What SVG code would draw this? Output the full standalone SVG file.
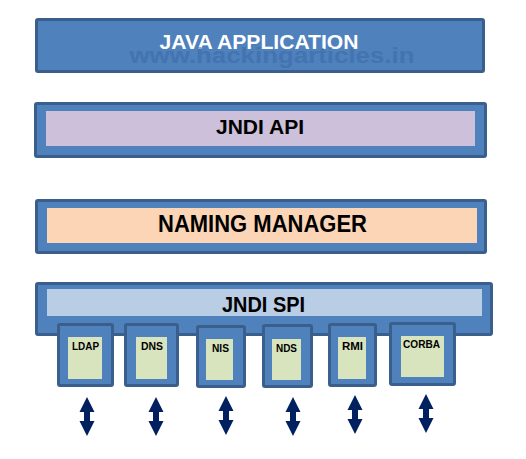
<svg xmlns="http://www.w3.org/2000/svg" width="526" height="459" viewBox="0 0 526 459">
<defs>
<style>
.outer{fill:#4f81bd;stroke:#3a5f8c;stroke-width:3}
.big{font-family:"Liberation Sans",Arial,sans-serif;font-weight:bold;text-anchor:middle}
.small{font-family:"Liberation Sans",Arial,sans-serif;font-weight:bold;font-size:10.5px;fill:#000;text-anchor:middle}
.inner{fill:#d7e4bd}
.arrow{fill:#002060}
</style>
<path id="dbl" d="M0,0 L7.5,15 L3,15 L3,24 L7.5,24 L0,39 L-7.5,24 L-3,24 L-3,15 L-7.5,15 Z"/>
</defs>
<rect width="526" height="459" fill="#fff"/>
<g id="java-application">
<rect class="outer" x="36.5" y="19.5" width="447" height="52" rx="1.5"/>
<text class="big" x="259" y="49" font-size="21" fill="#fff" textLength="199" lengthAdjust="spacingAndGlyphs">JAVA APPLICATION</text>
<text class="big" x="272" y="63" font-size="22" fill="#3a6aa6" opacity="0.55" textLength="285" lengthAdjust="spacingAndGlyphs">www.hackingarticles.in</text>
</g>
<g id="jndi-api">
<rect class="outer" x="35.5" y="103.5" width="450" height="53" rx="1.5"/>
<rect x="46" y="111" width="429" height="35" fill="#ccc0da"/>
<text class="big" x="260" y="134" font-size="21" fill="#000" textLength="88" lengthAdjust="spacingAndGlyphs">JNDI API</text>
</g>
<g id="naming-manager">
<rect class="outer" x="36.5" y="200.5" width="449" height="52" rx="1.5"/>
<rect x="47" y="208" width="430" height="35" fill="#fbd5b5"/>
<text class="big" x="262.5" y="232" font-size="23" fill="#000" textLength="209" lengthAdjust="spacingAndGlyphs">NAMING MANAGER</text>
</g>
<g id="jndi-spi">
<rect class="outer" x="36.5" y="283.5" width="455" height="51" rx="1.5"/>
<rect x="47" y="289" width="435" height="27" fill="#b9cde5"/>
<text class="big" x="263.5" y="312" font-size="22" fill="#000" textLength="83" lengthAdjust="spacingAndGlyphs">JNDI SPI</text>
</g>
<g id="ldap">
<rect class="outer" x="58.5" y="324.5" width="54" height="61" rx="1.5"/>
<rect class="inner" x="68" y="337" width="34" height="42"/>
<text class="small" x="85.5" y="350" textLength="27" lengthAdjust="spacingAndGlyphs">LDAP</text>
</g>
<g id="dns">
<rect class="outer" x="125.5" y="324.5" width="52" height="61" rx="1.5"/>
<rect class="inner" x="136" y="337" width="31" height="42"/>
<text class="small" x="152" y="350" textLength="22" lengthAdjust="spacingAndGlyphs">DNS</text>
</g>
<g id="nis">
<rect class="outer" x="197.5" y="326.5" width="47" height="60" rx="1.5"/>
<rect class="inner" x="206" y="339" width="27" height="41"/>
<text class="small" x="220.5" y="352" textLength="17" lengthAdjust="spacingAndGlyphs">NIS</text>
</g>
<g id="nds">
<rect class="outer" x="263.5" y="325.5" width="48" height="61" rx="1.5"/>
<rect class="inner" x="272" y="339" width="29" height="41"/>
<text class="small" x="286.5" y="352" textLength="21" lengthAdjust="spacingAndGlyphs">NDS</text>
</g>
<g id="rmi">
<rect class="outer" x="329.5" y="324.5" width="46" height="61" rx="1.5"/>
<rect class="inner" x="338" y="337" width="28" height="42"/>
<text class="small" x="352.5" y="350" textLength="21" lengthAdjust="spacingAndGlyphs">RMI</text>
</g>
<g id="corba">
<rect class="outer" x="390.5" y="323.5" width="64" height="61" rx="1.5"/>
<rect class="inner" x="401" y="336" width="43" height="41"/>
<text class="small" x="421.5" y="348" textLength="37" lengthAdjust="spacingAndGlyphs">CORBA</text>
</g>
<g id="connectors" class="arrow">
<use href="#dbl" x="87" y="397"/>
<use href="#dbl" x="156" y="397"/>
<use href="#dbl" x="226" y="396"/>
<use href="#dbl" x="293" y="397"/>
<use href="#dbl" x="355" y="395"/>
<use href="#dbl" x="426" y="394"/>
</g>
</svg>
